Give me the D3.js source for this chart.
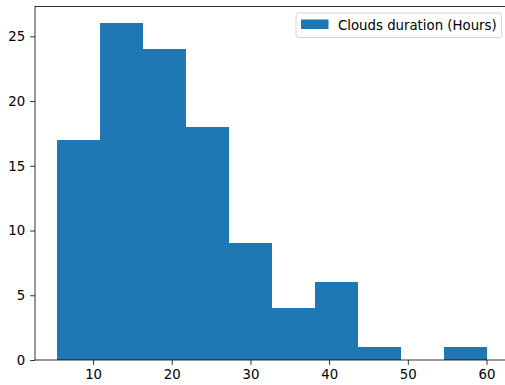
<!DOCTYPE html>
<html><head><meta charset="utf-8">
<script src="https://cdn.jsdelivr.net/npm/d3@7"></script>
<style>body{margin:0;background:#fff}svg{display:block}text{font-family:"DejaVu Sans",sans-serif}</style>
</head><body>
<script>
const binStart = 5.35;
const binWidth = 5.465;
const counts = [17, 26, 24, 18, 9, 4, 6, 1, 0, 1];
const xTicks = [10, 20, 30, 40, 50, 60];
const yTicks = [0, 5, 10, 15, 20, 25];
const legendLabel = "Clouds duration (Hours)";

(function () {
const W = 505, H = 385;
const svg = d3.select("body").append("svg").attr("width", W).attr("height", H);
const mLeft = 35, mRight = 508, mTop = 6.5, mBottom = 360;
const dataMin = binStart, dataMax = binStart + binWidth * counts.length;
const pad = (dataMax - dataMin) * 0.05;
const x = d3.scaleLinear().domain([dataMin - pad, dataMax + pad]).range([mLeft, mRight]);
const y = d3.scaleLinear().domain([0, d3.max(counts) * 1.05]).range([mBottom, mTop]);

const bins = counts.map((c, i) => ({x0: binStart + i * binWidth, x1: binStart + (i + 1) * binWidth, c}));
svg.append("g").selectAll("rect").data(bins.filter(b => b.c > 0)).join("rect")
  .attr("x", d => x(d.x0)).attr("width", d => x(d.x1) - x(d.x0))
  .attr("y", d => y(d.c)).attr("height", d => y(0) - y(d.c))
  .attr("fill", "#1f77b4").attr("shape-rendering", "crispEdges");

const xAxis = svg.append("g").attr("transform", `translate(0,${mBottom})`)
  .call(d3.axisBottom(x).tickValues(xTicks).tickSize(4.9).tickPadding(4.9).tickFormat(d3.format("d")));
const yAxis = svg.append("g").attr("transform", `translate(${mLeft},0)`)
  .call(d3.axisLeft(y).tickValues(yTicks).tickSize(4.9).tickPadding(4.9).tickFormat(d3.format("d")));
[xAxis, yAxis].forEach(g => {
  g.select(".domain").remove();
  g.selectAll("line").attr("stroke", "#000").attr("stroke-width", 0.8);
  g.selectAll("text").attr("font-size", 13.3).attr("fill", "#000").style("font-family", "DejaVu Sans");
});
const sp = svg.append("g").attr("fill", "none").attr("stroke", "#000").attr("stroke-width", 0.8);
sp.append("rect").attr("x", mLeft).attr("y", mTop).attr("width", mRight - mLeft).attr("height", mBottom - mTop);

const lg = svg.append("g");
lg.append("rect").attr("x", 296).attr("y", 13).attr("width", 205.5).attr("height", 24.5).attr("rx", 2.5)
  .attr("fill", "#fff").attr("fill-opacity", 0.8).attr("stroke", "#d6d6d6").attr("stroke-width", 1);
lg.append("rect").attr("x", 301).attr("y", 19.5).attr("width", 27.5).attr("height", 9.5).attr("fill", "#1f77b4");
lg.append("text").attr("x", 338).attr("y", 29.5).attr("font-size", 13.3).attr("fill", "#000").text(legendLabel);
})();
</script>
</body></html>
